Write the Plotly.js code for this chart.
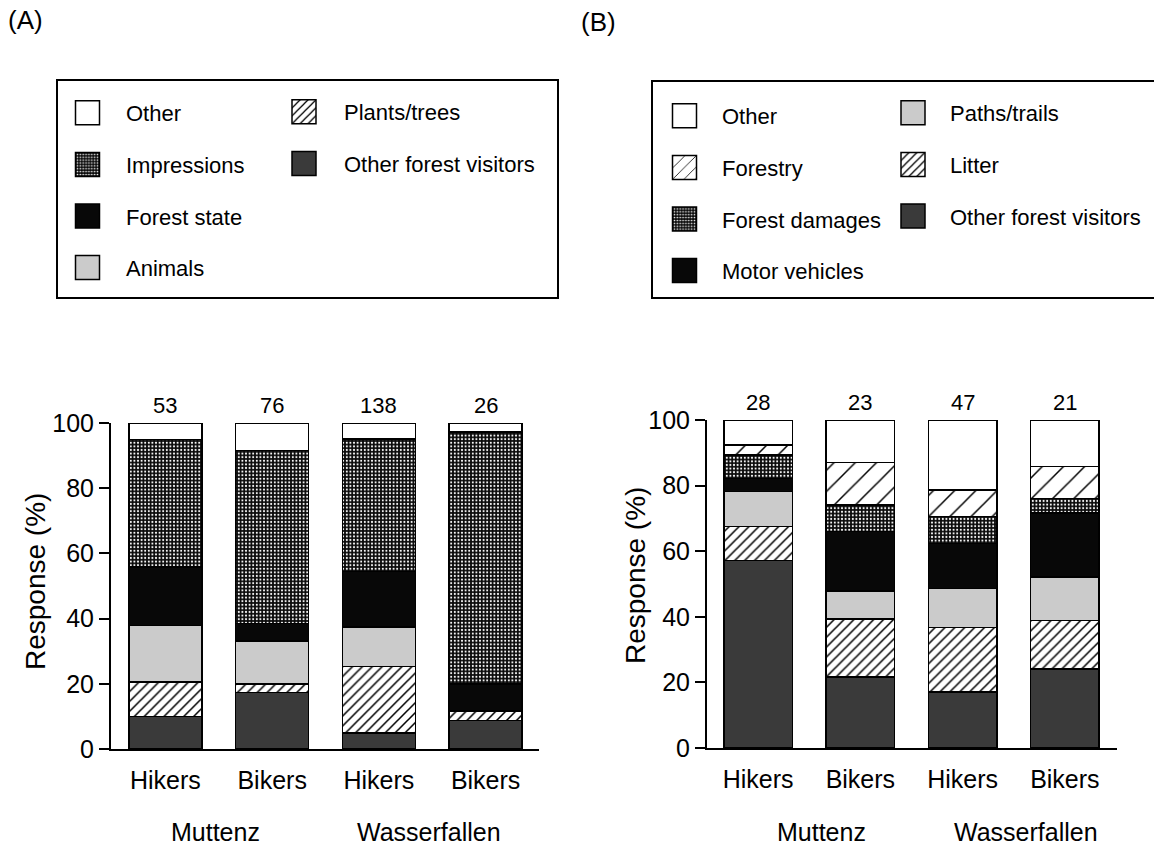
<!DOCTYPE html>
<html>
<head>
<meta charset="utf-8">
<script src="https://cdn.plot.ly/plotly-3.0.1.min.js"></script>
<style>
html,body{margin:0;padding:0;background:#fff;}
#chart{width:1154px;height:846px;}
</style>
</head>
<body>
<div id="chart"></div>
<script>
// ---------------- DATA ----------------
const categories = ['Hikers', 'Bikers', 'Hikers', 'Bikers'];
const sites = ['Muttenz', 'Wasserfallen'];
const sitePositions = [0.5, 2.5];
const nA = [53, 76, 138, 26];
const nB = [28, 23, 47, 21];
const yTitle = 'Response (%)';

// Panel A (bottom to top of each stack), % of responses
const A_otherVisitors = [10.0, 17.3, 4.9, 8.7];
const A_plantsTrees   = [10.5, 2.7, 20.4, 3.0];
const A_animals       = [17.4, 13.2, 12.2, 0.0];
const A_forestState   = [18.0, 5.3, 17.0, 8.2];
const A_impressions   = [39.0, 53.0, 40.6, 77.4];
const A_other         = [5.1, 8.5, 4.9, 2.7];

// Panel B (bottom to top of each stack), % of responses
const B_otherVisitors = [57.1, 21.6, 17.0, 24.1];
const B_litter        = [10.4, 17.7, 19.8, 14.7];
const B_pathsTrails   = [10.7, 8.6, 11.8, 13.3];
const B_motorVehicles = [4.0, 18.1, 13.8, 19.5];
const B_forestDamages = [7.1, 8.1, 8.2, 4.5];
const B_forestry      = [3.1, 13.0, 8.1, 9.7];
const B_other         = [7.6, 12.9, 21.3, 14.2];

// ---------------- STYLES ----------------
const W = 1154, H = 846;
const px = x => x / W;
const py = y => 1 - y / H;
const FONT = 'Liberation Sans, Arial, Helvetica, sans-serif';

const styles = {
  otherVisitors: {color: '#3a3a3a'},
  dense: {color: '#ffffff', pattern: {shape: '/', size: 7, solidity: 0.22, fgcolor: '#000', bgcolor: '#fff', fillmode: 'replace'}},
  sparse: {color: '#ffffff', pattern: {shape: '/', size: 15, solidity: 0.1, fgcolor: '#000', bgcolor: '#fff', fillmode: 'replace'}},
  light: {color: '#cbcbcb'},
  black: {color: '#080808'},
  grid: {color: '#000000', pattern: {shape: '.', size: 3.6, solidity: 0.26, fgcolor: '#fff', bgcolor: '#0a0a0a', fillmode: 'replace'}},
  white: {color: '#ffffff'}
};

const xIdx = categories.map((c, i) => i);

function bar(name, vals, st, xa, ya, legend, rank, width) {
  const marker = Object.assign({line: {color: '#000', width: 1.5}}, JSON.parse(JSON.stringify(st)));
  return {
    type: 'bar', name: name, x: xIdx, y: vals, xaxis: xa, yaxis: ya,
    marker: marker, width: width, legend: legend, legendgroup: name + xa, legendrank: rank,
    hoverinfo: 'name+y'
  };
}

const wA = 0.685, wB = 0.67;
const traces = [
  bar('Other forest visitors', A_otherVisitors, styles.otherVisitors, 'x', 'y', 'legend2', 2, wA),
  bar('Plants/trees', A_plantsTrees, styles.dense, 'x', 'y', 'legend2', 1, wA),
  bar('Animals', A_animals, styles.light, 'x', 'y', 'legend', 4, wA),
  bar('Forest state', A_forestState, styles.black, 'x', 'y', 'legend', 3, wA),
  bar('Impressions', A_impressions, styles.grid, 'x', 'y', 'legend', 2, wA),
  bar('Other', A_other, styles.white, 'x', 'y', 'legend', 1, wA),

  bar('Other forest visitors', B_otherVisitors, styles.otherVisitors, 'x2', 'y2', 'legend4', 3, wB),
  bar('Litter', B_litter, styles.dense, 'x2', 'y2', 'legend4', 2, wB),
  bar('Paths/trails', B_pathsTrails, styles.light, 'x2', 'y2', 'legend4', 1, wB),
  bar('Motor vehicles', B_motorVehicles, styles.black, 'x2', 'y2', 'legend3', 4, wB),
  bar('Forest damages', B_forestDamages, styles.grid, 'x2', 'y2', 'legend3', 3, wB),
  bar('Forestry', B_forestry, styles.sparse, 'x2', 'y2', 'legend3', 2, wB),
  bar('Other', B_other, styles.white, 'x2', 'y2', 'legend3', 1, wB)
];

function xaxisDef(d0, d1, anchor, range) {
  return {
    domain: [px(d0), px(d1)], anchor: anchor, range: range,
    tickvals: xIdx, ticktext: categories, ticks: '', showline: true, linewidth: 2, linecolor: '#000',
    showgrid: false, zeroline: false, tickfont: {size: 25, color: '#000'}, ticklabelstandoff: 8, fixedrange: true
  };
}
function yaxisDef(top, bottom, anchor) {
  return {
    domain: [py(bottom), py(top)], anchor: anchor, range: [0, 100], dtick: 20, tick0: 0,
    ticks: 'outside', ticklen: 10, tickwidth: 2, tickcolor: '#000', showline: true, linewidth: 2, linecolor: '#000',
    showgrid: false, zeroline: false, tickfont: {size: 25, color: '#000'}, fixedrange: true
  };
}

const annotations = [];
nA.forEach((n, i) => annotations.push({x: i, y: 100, xref: 'x', yref: 'y', text: String(n), showarrow: false, yanchor: 'bottom', yshift: 3, font: {size: 22, color: '#000'}}));
nB.forEach((n, i) => annotations.push({x: i, y: 100, xref: 'x2', yref: 'y2', text: String(n), showarrow: false, yanchor: 'bottom', yshift: 3, font: {size: 22, color: '#000'}}));
sites.forEach((s, i) => {
  annotations.push({x: sitePositions[i], y: py(832), xref: 'x', yref: 'paper', text: s, showarrow: false, yanchor: 'middle', xshift: -3, font: {size: 25, color: '#000'}});
  annotations.push({x: sitePositions[i], y: py(832), xref: 'x2', yref: 'paper', text: s, showarrow: false, yanchor: 'middle', xshift: 12, font: {size: 25, color: '#000'}});
});
// axis titles (rotated)
annotations.push({x: px(35), y: py(582), xref: 'paper', yref: 'paper', text: yTitle, textangle: -90, showarrow: false, xanchor: 'center', yanchor: 'middle', font: {size: 28, color: '#000'}});
annotations.push({x: px(635), y: py(576), xref: 'paper', yref: 'paper', text: yTitle, textangle: -90, showarrow: false, xanchor: 'center', yanchor: 'middle', font: {size: 28, color: '#000'}});
// panel labels
annotations.push({x: px(25), y: py(20), xref: 'paper', yref: 'paper', text: '(A)', showarrow: false, xanchor: 'center', yanchor: 'middle', font: {size: 26, color: '#000'}});
annotations.push({x: px(599), y: py(22), xref: 'paper', yref: 'paper', text: '(B)', showarrow: false, xanchor: 'center', yanchor: 'middle', font: {size: 26, color: '#000'}});

function legendDef(x, y, iw) {
  return {x: px(x), y: py(y), xanchor: 'left', yanchor: 'top', bgcolor: 'rgba(0,0,0,0)', borderwidth: 0,
          font: {size: 22, color: '#000', family: FONT}, traceorder: 'grouped', tracegroupgap: 20, itemwidth: iw,
          itemclick: false, itemdoubleclick: false};
}

const layout = {
  width: W, height: H, margin: {l: 0, r: 0, t: 0, b: 0}, paper_bgcolor: '#fff', plot_bgcolor: '#fff',
  font: {family: FONT, color: '#000'}, barmode: 'stack', showlegend: true, bargap: 0,
  xaxis: xaxisDef(111, 539, 'y', [-0.51, 3.5]),
  yaxis: yaxisDef(423, 749, 'x'),
  xaxis2: xaxisDef(707, 1117, 'y2', [-0.5, 3.51]),
  yaxis2: yaxisDef(420, 748, 'x2'),
  legend: legendDef(49, 92, 67),
  legend2: legendDef(264, 91, 70),
  legend3: legendDef(647, 95, 65),
  legend4: legendDef(876, 92, 64),
  annotations: annotations,
  shapes: [
    {type: 'rect', xref: 'paper', yref: 'paper', x0: px(57), x1: px(558), y0: py(298), y1: py(80), line: {color: '#000', width: 2}, fillcolor: 'rgba(0,0,0,0)'},
    {type: 'rect', xref: 'paper', yref: 'paper', x0: px(652), x1: px(1170), y0: py(298), y1: py(81), line: {color: '#000', width: 2}, fillcolor: 'rgba(0,0,0,0)'}
  ]
};

Plotly.newPlot('chart', traces, layout, {displayModeBar: false, staticPlot: true}).then(gd => {
  // enlarge legend swatches to match the original's bigger boxes (pattern keeps its native scale)
  gd.querySelectorAll('.legendpoints path').forEach(p => {
    p.setAttribute('d', 'M12,12H-12V-12H12Z');
  });
});
</script>
</body>
</html>
